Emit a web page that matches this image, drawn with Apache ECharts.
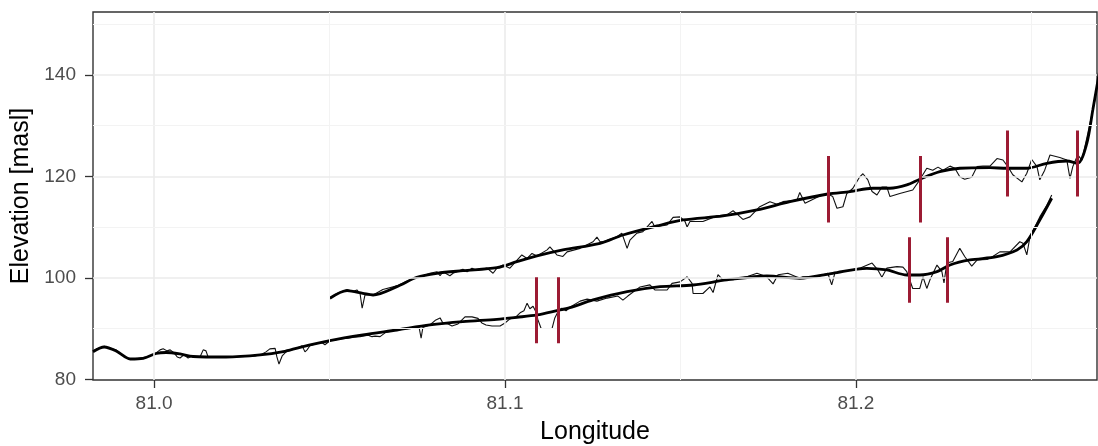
<!DOCTYPE html>
<html><head><meta charset="utf-8">
<script src="https://cdn.jsdelivr.net/npm/echarts@6/dist/echarts.min.js"></script>
<style>html,body{margin:0;padding:0;background:#fff}#c{width:1098px;height:446px}</style>
</head><body><div id="c"></div>
<script>
const xMajor=[81.0,81.1,81.2];
const xMinor=[81.05,81.15,81.25];
const yMajor=[80,100,120,140];
const yMinor=[90,110,130,150];

const lowerRawLon=[80.9826,80.9846,80.9858,80.9875,80.9892,80.9909,80.9926,80.9946,80.9969,80.9989,81.0006,81.0017,81.0026,81.0037,81.0046,81.0057,81.0066,81.0074,81.0085,81.0097,81.0108,81.0131,81.0140,81.0148,81.0154,81.0188,81.0222,81.0259,81.0288,81.0308,81.0319,81.0330,81.0345,81.0350,81.0356,81.0365,81.0376,81.0393,81.0410,81.0422,81.0430,81.0436,81.0444,81.0462,81.0479,81.0487,81.0501,81.0519,81.0536,81.0553,81.0570,81.0587,81.0610,81.0621,81.0630,81.0644,81.0661,81.0687,81.0715,81.0735,81.0755,81.0761,81.0766,81.0786,81.0803,81.0815,81.0823,81.0838,81.0849,81.0866,81.0886,81.0906,81.0923,81.0934,81.0946,81.0963,81.0986,81.1000,81.1014,81.1031,81.1043,81.1054,81.1063,81.1071,81.1080,81.1088,81.1094,81.1103,81.1134,81.1142,81.1151,81.1162,81.1174,81.1185,81.1214,81.1234,81.1262,81.1291,81.1322,81.1336,81.1350,81.1385,81.1413,81.1427,81.1462,81.1476,81.1499,81.1519,81.1533,81.1536,81.1564,81.1584,81.1593,81.1607,81.1621,81.1650,81.1689,81.1718,81.1746,81.1764,81.1778,81.1806,81.1840,81.1849,81.1889,81.1920,81.1931,81.1940,81.1983,81.2011,81.2046,81.2063,81.2074,81.2088,81.2117,81.2134,81.2145,81.2162,81.2182,81.2191,81.2202,81.2211,81.2231,81.2245,81.2251,81.2259,81.2276,81.2296,81.2310,81.2330,81.2345,81.2373,81.2390,81.2410,81.2439,81.2467,81.2476,81.2487,81.2496,81.2524,81.2544,81.2558];
const lowerRawElev=[85.6,86.2,86.5,86.1,85.8,84.8,84.1,84.1,84.3,84.6,85.2,85.8,86.0,85.6,85.8,85.2,84.4,84.2,84.8,84.2,84.6,84.4,85.8,85.6,84.4,84.3,84.4,84.5,84.6,85.0,85.4,86.0,86.1,84.4,83.0,84.6,85.4,85.8,86.2,86.6,85.4,85.8,86.6,87.0,87.2,86.8,87.6,87.8,88.0,88.1,88.3,88.4,88.7,88.4,88.5,88.4,89.3,89.6,89.9,90.1,90.3,88.1,90.2,90.7,91.7,92.1,91.1,90.9,90.5,90.9,92.3,92.3,92.0,91.1,90.7,90.5,90.5,91.1,91.9,92.3,93.1,93.5,95.0,93.9,94.4,93.3,91.7,90.0,90.0,92.1,93.3,94.0,93.5,94.2,95.4,95.8,95.4,96.0,96.4,95.6,96.4,98.2,98.6,97.6,97.6,98.9,99.2,100.2,98.9,96.9,96.9,98.2,97.1,100.6,99.6,99.6,100.2,100.9,100.2,98.8,100.6,100.9,99.9,100.2,100.2,100.9,98.6,100.9,101.5,101.9,102.9,101.5,100.1,101.9,102.2,102.1,101.2,97.9,97.9,100.2,97.9,99.6,102.5,101.2,99.0,102.9,103.2,105.8,104.2,102.3,103.5,103.6,104.2,105.1,105.1,107.1,106.8,104.5,108.1,112.0,114.3,116.3];

const lowerSmoothLon=[80.9826,80.9858,80.9892,80.9932,80.9969,81.0006,81.0034,81.0074,81.0111,81.0205,81.0302,81.0368,81.0416,81.0501,81.0595,81.0692,81.0786,81.0880,81.0977,81.1034,81.1091,81.1148,81.1185,81.1251,81.1348,81.1442,81.1536,81.1632,81.1746,81.1840,81.1934,81.2031,81.2088,81.2145,81.2182,81.2231,81.2268,81.2325,81.2402,81.2459,81.2487,81.2524,81.2558];
const lowerSmoothElev=[85.44,86.36,85.58,84.0,84.14,85.08,85.28,84.99,84.49,84.39,84.79,85.44,86.31,87.61,88.73,89.71,90.70,91.35,91.82,92.22,92.67,93.52,94.11,95.63,97.26,98.25,98.58,99.57,100.35,99.90,100.89,101.87,101.54,100.55,100.55,101.20,102.52,103.51,104.16,105.48,107.11,111.39,115.67];

const upperRawLon=[81.0501,81.0521,81.0550,81.0567,81.0578,81.0587,81.0593,81.0601,81.0624,81.0652,81.0692,81.0729,81.0766,81.0786,81.0806,81.0815,81.0823,81.0843,81.0852,81.0880,81.0892,81.0906,81.0920,81.0949,81.0966,81.0977,81.0994,81.1014,81.1028,81.1048,81.1063,81.1077,81.1091,81.1120,81.1128,81.1148,81.1165,81.1177,81.1214,81.1251,81.1262,81.1271,81.1279,81.1319,81.1333,81.1348,81.1356,81.1376,81.1393,81.1419,81.1427,81.1462,81.1479,81.1499,81.1513,81.1519,81.1527,81.1564,81.1604,81.1632,81.1650,81.1664,81.1678,81.1698,81.1726,81.1755,81.1775,81.1792,81.1832,81.1840,81.1855,81.1897,81.1920,81.1934,81.1946,81.1963,81.1974,81.1991,81.2011,81.2020,81.2034,81.2046,81.2060,81.2074,81.2088,81.2097,81.2125,81.2162,81.2182,81.2202,81.2219,81.2234,81.2248,81.2268,81.2282,81.2296,81.2310,81.2330,81.2345,81.2362,81.2382,81.2402,81.2419,81.2433,81.2447,81.2473,81.2487,81.2501,81.2516,81.2524,81.2538,81.2553,81.2581,81.2601,81.2610,81.2618,81.2632,81.2644,81.2661,81.2681,81.2695];
const upperRawElev=[96.0,96.9,97.7,97.3,97.6,96.9,94.0,96.6,96.6,97.7,98.4,99.6,100.4,100.9,101.2,100.4,101.2,100.4,100.9,101.7,101.2,101.9,101.5,101.9,100.9,101.9,102.5,101.9,103.0,104.5,103.8,104.8,104.3,105.5,106.1,104.5,104.2,105.1,105.8,107.1,108.0,107.1,107.1,108.1,108.8,105.8,107.4,108.8,109.1,111.1,110.0,110.4,111.9,112.0,111.1,110.0,111.1,111.1,112.2,112.4,113.2,112.4,111.5,112.0,114.0,115.0,114.5,115.0,115.3,116.8,114.7,116.1,116.5,116.0,113.7,114.0,116.6,117.6,119.9,120.5,119.3,117.0,116.3,117.9,117.9,116.0,116.6,117.3,119.3,121.6,121.2,121.8,121.2,122.0,121.6,119.9,119.4,119.8,121.9,122.0,122.0,123.5,123.2,121.9,120.3,118.9,120.6,123.3,121.9,119.3,121.2,124.2,123.7,123.2,119.6,121.9,124.2,123.2,128.5,135.0,141.0];

const upperSmoothLon=[81.0501,81.0550,81.0595,81.0624,81.0692,81.0749,81.0806,81.0880,81.0977,81.1034,81.1091,81.1165,81.1271,81.1336,81.1433,81.1507,81.1621,81.1718,81.1812,81.1920,81.1983,81.2048,81.2097,81.2145,81.2182,81.2239,81.2296,81.2382,81.2430,81.2487,81.2544,81.2601,81.2632,81.2658,81.2675,81.2695];
const upperSmoothElev=[95.96,97.46,96.95,96.61,98.25,100.10,100.89,101.40,101.99,103.17,104.30,105.48,106.80,108.43,110.21,111.39,112.18,113.36,115.00,116.51,116.97,117.64,117.64,118.29,119.41,120.91,121.58,121.69,121.58,121.58,122.56,123.01,122.56,126.50,133.06,141.0];

const breakLon=[81.1090,81.1151,81.1921,81.2182,81.2431,81.2632,81.2151,81.2260];
const breakLow=[87.1,87.1,110.9,110.9,116.0,116.0,95.1,95.1];
const breakHigh=[100.1,100.1,124.0,124.0,129.0,129.0,108.0,108.0];

const zip=(a,b)=>a.map((v,i)=>[v,b[i]]);
const FONT='"Liberation Sans", Arial, sans-serif';

const gridLines=[]
  .concat(xMajor.map(v=>({xAxis:v,lineStyle:{color:'#ebebeb',width:1.6,type:'solid'}})))
  .concat(xMinor.map(v=>({xAxis:v,lineStyle:{color:'#f3f3f3',width:1,type:'solid'}})))
  .concat(yMajor.filter(v=>v>80).map(v=>({yAxis:v,lineStyle:{color:'#ebebeb',width:1.6,type:'solid'}})))
  .concat(yMinor.map(v=>({yAxis:v,lineStyle:{color:'#f3f3f3',width:1,type:'solid'}})));

const chart=echarts.init(document.getElementById('c'),null,{renderer:'canvas'});
chart.setOption({
  animation:false,
  backgroundColor:'#fff',
  grid:{left:93,right:1,top:12,bottom:66,show:true,borderColor:'#333',borderWidth:1.4,backgroundColor:'transparent',containLabel:false,outerBoundsMode:'none'},
  xAxis:{type:'value',min:80.9826,max:81.2687,
    name:'Longitude',nameLocation:'middle',nameGap:40,
    nameTextStyle:{color:'#000',fontSize:25,fontFamily:FONT},
    axisLine:{show:false},
    axisTick:{show:true,customValues:xMajor,length:8,lineStyle:{color:'#333',width:1.3}},
    axisLabel:{customValues:xMajor,color:'#4d4d4d',fontSize:19,fontFamily:FONT,margin:14,formatter:v=>v.toFixed(1)},
    splitLine:{show:false}},
  yAxis:{type:'value',min:79.86,max:152.37,
    name:'Elevation [masl]',nameLocation:'middle',nameGap:58,
    nameTextStyle:{color:'#000',fontSize:25,fontFamily:FONT},
    axisLine:{show:false},
    axisTick:{show:true,customValues:yMajor,length:8,lineStyle:{color:'#333',width:1.3}},
    axisLabel:{customValues:yMajor,color:'#4d4d4d',fontSize:19,fontFamily:FONT,margin:17},
    splitLine:{show:false}},
  series:[
    {type:'line',data:[],z:1,silent:true,
     markLine:{silent:true,symbol:['none','none'],label:{show:false},animation:false,data:gridLines}},
    {type:'line',data:zip(lowerRawLon,lowerRawElev),showSymbol:false,z:2,lineStyle:{color:'#111',width:1.1}},
    {type:'line',data:zip(upperRawLon,upperRawElev),showSymbol:false,z:2,lineStyle:{color:'#111',width:1.1}},
    {type:'line',data:zip(lowerSmoothLon,lowerSmoothElev),showSymbol:false,smooth:0.3,z:3,lineStyle:{color:'#000',width:2.8}},
    {type:'line',data:zip(upperSmoothLon,upperSmoothElev),showSymbol:false,smooth:0.3,z:3,lineStyle:{color:'#000',width:2.8}},
    {type:'lines',coordinateSystem:'cartesian2d',z:5,
     lineStyle:{color:'#9c1b33',width:3,opacity:1},
     data:breakLon.map((x,i)=>({coords:[[x,breakLow[i]],[x,breakHigh[i]]]}))}
  ]
});
</script></body></html>
